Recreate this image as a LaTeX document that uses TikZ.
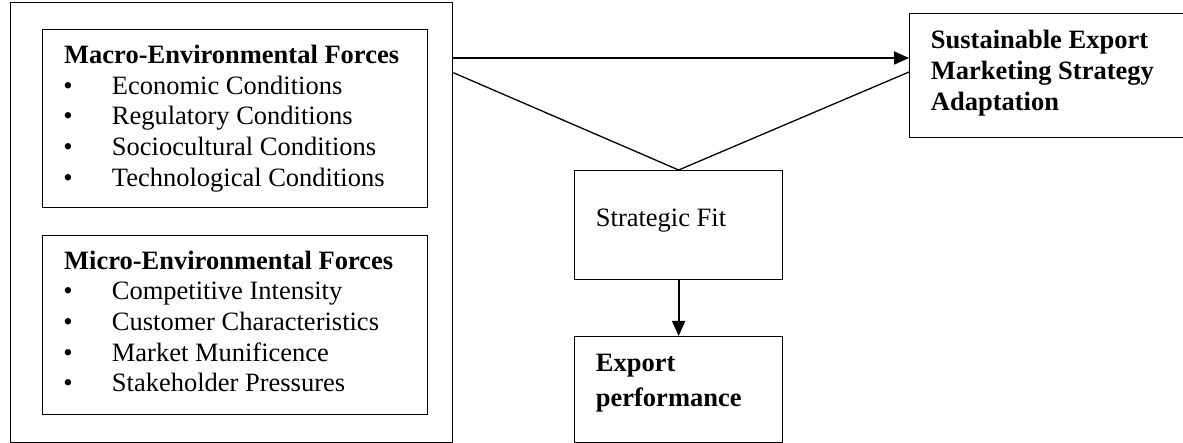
\documentclass[tikz,border=0pt]{standalone}
\usepackage{fontspec}
\setmainfont{Liberation Serif}
\usetikzlibrary{arrows.meta}

\tikzset{
  box/.style={draw=black, line width=1.3pt, rectangle, inner sep=0pt, anchor=north west},
  txt/.style={anchor=base west, inner sep=0pt, font=\fontsize{26.5}{30.7}\selectfont},
  hd/.style={txt, font=\fontsize{26.5}{30.7}\selectfont\bfseries},
  bul/.style={anchor=base, inner sep=0pt, font=\fontsize{26.5}{30.7}\selectfont},
  link/.style={line width=1.3pt},
  arrowline/.style={line width=1.8pt, -{Triangle[length=15pt,width=13pt]}}
}

\begin{document}
\begin{tikzpicture}[x=1pt, y=-1pt]
  \useasboundingbox (0,0) rectangle (1183,443);

  % boxes
  \node[box, minimum width=442pt, minimum height=440pt] (outer) at (10,2) {};
  \node[box, minimum width=385pt, minimum height=178pt] (macro) at (42,29) {};
  \node[box, minimum width=385pt, minimum height=179pt] (micro) at (42,235) {};
  \node[box, minimum width=208pt, minimum height=109pt] (fit) at (574,170) {};
  \node[box, minimum width=208pt, minimum height=106pt] (perf) at (574,336) {};
  \node[box, minimum width=280pt, minimum height=124pt] (semsa) at (909,13) {};

  % macro-environmental forces
  \node[hd] (macroT) at (64,63.3) {Macro-Environmental Forces};
  \foreach \t [count=\i] in {Economic Conditions, Regulatory Conditions, Sociocultural Conditions, Technological Conditions} {
    \node[bul] (macroB\i) at (68,{63.3+30.8*\i}) {\textbullet};
    \node[txt] (macroI\i) at (111.7,{63.3+30.8*\i}) {\t};
  }

  % micro-environmental forces
  \node[hd] (microT) at (64,269.3) {Micro-Environmental Forces};
  \foreach \t [count=\i] in {Competitive Intensity, Customer Characteristics, Market Munificence, Stakeholder Pressures} {
    \node[bul] (microB\i) at (68,{269.3+30.6*\i}) {\textbullet};
    \node[txt] (microI\i) at (111.7,{269.3+30.6*\i}) {\t};
  }

  % other labels
  \node[txt] (fitT) at (595.7,227) {Strategic Fit};
  \node[hd] (perfT1) at (595.7,371.7) {Export};
  \node[hd] (perfT2) at (595.7,406.7) {performance};
  \node[hd] (semsaT1) at (930.7,48.3) {Sustainable Export};
  \node[hd] (semsaT2) at (930.7,79.5) {Marketing Strategy};
  \node[hd] (semsaT3) at (930.7,110.5) {Adaptation};

  % connectors
  \coordinate (hA) at (outer.east |- 0,58);
  \coordinate (hB) at (semsa.west |- 0,58);
  \coordinate (dA) at (outer.east |- 0,72.7);
  \coordinate (dB) at (semsa.west |- 0,72);
  \draw[arrowline] (hA) -- (hB);
  \draw[link, line join=miter] (dA) -- (fit.north) -- (dB);
  \draw[arrowline] (fit.south) -- (perf.north);
\end{tikzpicture}
\end{document}
